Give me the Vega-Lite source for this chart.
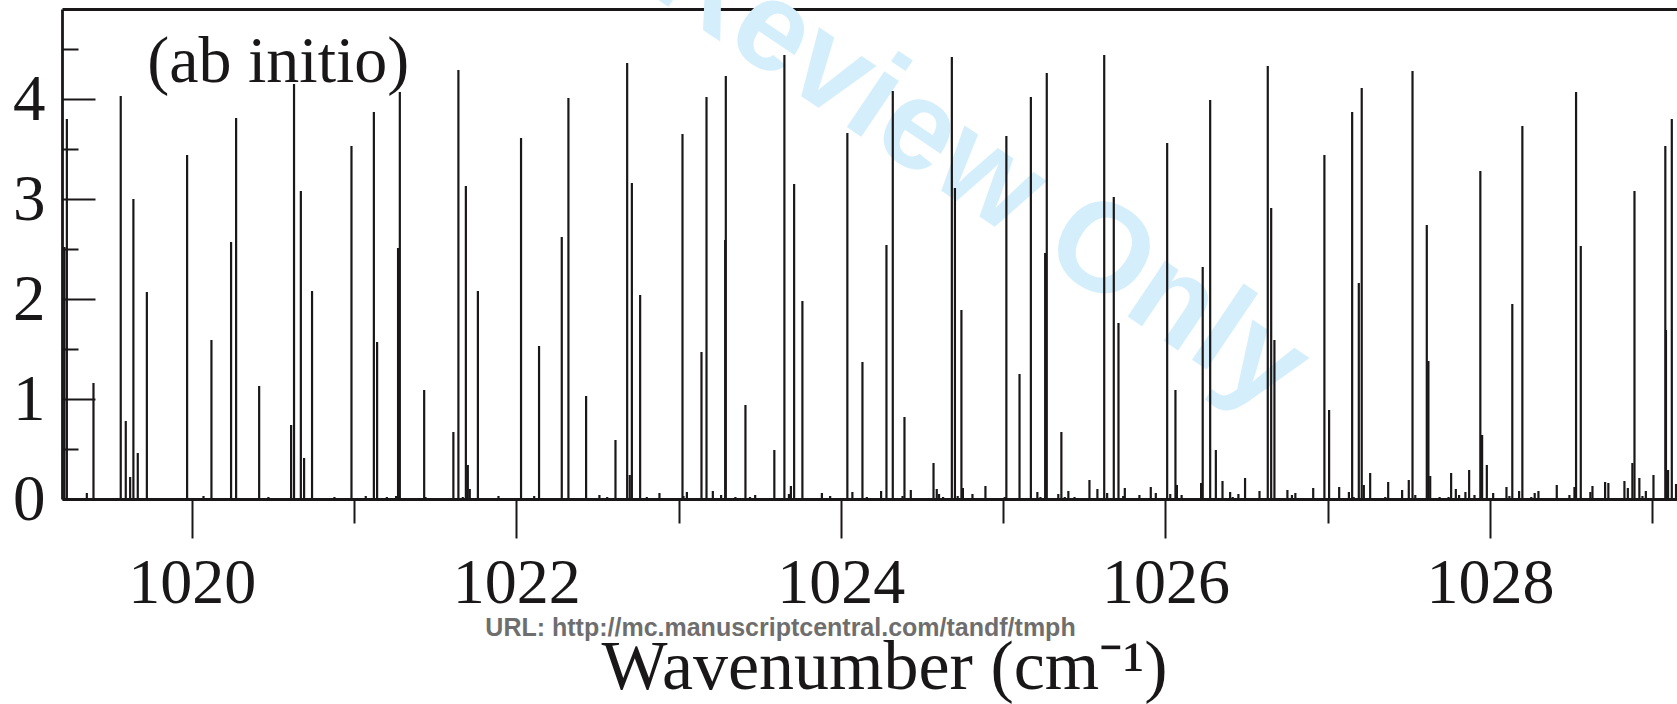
{
  "$schema": "https://vega.github.io/schema/vega-lite/v6.json",
  "autosize": "none",
  "padding": {"left": 62, "top": 9, "right": 0, "bottom": 205},
  "width": 1615,
  "height": 490,
  "background": "white",
  "config": {"view": {"stroke": null}},
  "resolve": {"axis": {"x": "independent", "y": "independent"}},
  "datasets": {
    "lines": [
      {"wn": 1019.215, "h": 2.52}, {"wn": 1019.230, "h": 3.80}, {"wn": 1019.353, "h": 0.06}, {"wn": 1019.394, "h": 1.16},
      {"wn": 1019.562, "h": 4.03}, {"wn": 1019.593, "h": 0.78}, {"wn": 1019.620, "h": 0.22}, {"wn": 1019.640, "h": 3.00},
      {"wn": 1019.667, "h": 0.46}, {"wn": 1019.723, "h": 2.07}, {"wn": 1019.971, "h": 3.44}, {"wn": 1020.072, "h": 0.03},
      {"wn": 1020.121, "h": 1.59}, {"wn": 1020.242, "h": 2.57}, {"wn": 1020.273, "h": 3.81}, {"wn": 1020.415, "h": 1.13},
      {"wn": 1020.472, "h": 0.02}, {"wn": 1020.612, "h": 0.74}, {"wn": 1020.630, "h": 4.15}, {"wn": 1020.672, "h": 3.08},
      {"wn": 1020.692, "h": 0.41}, {"wn": 1020.741, "h": 2.08}, {"wn": 1020.879, "h": 0.02},
      {"wn": 1020.984, "h": 3.53}, {"wn": 1021.072, "h": 0.03}, {"wn": 1021.122, "h": 3.87}, {"wn": 1021.142, "h": 1.57},
      {"wn": 1021.202, "h": 0.02}, {"wn": 1021.259, "h": 0.03}, {"wn": 1021.271, "h": 2.51}, {"wn": 1021.282, "h": 4.07},
      {"wn": 1021.432, "h": 1.09}, {"wn": 1021.440, "h": 0.02}, {"wn": 1021.612, "h": 0.67}, {"wn": 1021.643, "h": 4.29},
      {"wn": 1021.670, "h": 0.02}, {"wn": 1021.689, "h": 3.13}, {"wn": 1021.701, "h": 0.34}, {"wn": 1021.713, "h": 0.10},
      {"wn": 1021.763, "h": 2.08}, {"wn": 1021.890, "h": 0.03}, {"wn": 1022.029, "h": 3.61}, {"wn": 1022.110, "h": 0.03},
      {"wn": 1022.140, "h": 1.53}, {"wn": 1022.280, "h": 2.62}, {"wn": 1022.321, "h": 4.01}, {"wn": 1022.430, "h": 1.03},
      {"wn": 1022.512, "h": 0.04}, {"wn": 1022.560, "h": 0.02}, {"wn": 1022.611, "h": 0.59}, {"wn": 1022.683, "h": 4.36},
      {"wn": 1022.699, "h": 0.24}, {"wn": 1022.712, "h": 3.16}, {"wn": 1022.763, "h": 2.04}, {"wn": 1022.804, "h": 0.02},
      {"wn": 1022.882, "h": 0.06},
      {"wn": 1023.024, "h": 3.65}, {"wn": 1023.030, "h": 0.03}, {"wn": 1023.051, "h": 0.07}, {"wn": 1023.141, "h": 1.47},
      {"wn": 1023.172, "h": 4.02}, {"wn": 1023.211, "h": 0.08}, {"wn": 1023.262, "h": 0.04}, {"wn": 1023.287, "h": 2.59},
      {"wn": 1023.291, "h": 4.23}, {"wn": 1023.350, "h": 0.02}, {"wn": 1023.412, "h": 0.94}, {"wn": 1023.440, "h": 0.02},
      {"wn": 1023.472, "h": 0.04}, {"wn": 1023.530, "h": 0.01}, {"wn": 1023.590, "h": 0.49}, {"wn": 1023.652, "h": 4.44},
      {"wn": 1023.680, "h": 0.05}, {"wn": 1023.692, "h": 0.13}, {"wn": 1023.712, "h": 3.15}, {"wn": 1023.763, "h": 1.98},
      {"wn": 1023.883, "h": 0.06}, {"wn": 1023.934, "h": 0.03}, {"wn": 1024.040, "h": 3.66}, {"wn": 1024.071, "h": 0.07},
      {"wn": 1024.133, "h": 1.37}, {"wn": 1024.160, "h": 0.02}, {"wn": 1024.248, "h": 0.08}, {"wn": 1024.281, "h": 2.54},
      {"wn": 1024.320, "h": 4.08}, {"wn": 1024.380, "h": 0.03}, {"wn": 1024.392, "h": 0.82}, {"wn": 1024.431, "h": 0.09},
      {"wn": 1024.571, "h": 0.36}, {"wn": 1024.591, "h": 0.10}, {"wn": 1024.605, "h": 0.05}, {"wn": 1024.630, "h": 0.02},
      {"wn": 1024.684, "h": 4.42}, {"wn": 1024.703, "h": 3.11}, {"wn": 1024.720, "h": 0.03}, {"wn": 1024.743, "h": 1.89},
      {"wn": 1024.752, "h": 0.11}, {"wn": 1024.811, "h": 0.05}, {"wn": 1024.891, "h": 0.13},
      {"wn": 1025.010, "h": 0.02}, {"wn": 1025.020, "h": 3.63}, {"wn": 1025.101, "h": 1.25}, {"wn": 1025.171, "h": 4.02},
      {"wn": 1025.211, "h": 0.07}, {"wn": 1025.230, "h": 0.02}, {"wn": 1025.259, "h": 2.46}, {"wn": 1025.269, "h": 4.26},
      {"wn": 1025.340, "h": 0.05}, {"wn": 1025.359, "h": 0.67}, {"wn": 1025.380, "h": 0.02}, {"wn": 1025.402, "h": 0.08},
      {"wn": 1025.440, "h": 0.02}, {"wn": 1025.532, "h": 0.19}, {"wn": 1025.581, "h": 0.10}, {"wn": 1025.623, "h": 4.44},
      {"wn": 1025.641, "h": 0.06}, {"wn": 1025.682, "h": 3.02}, {"wn": 1025.711, "h": 1.76}, {"wn": 1025.740, "h": 0.03},
      {"wn": 1025.750, "h": 0.11}, {"wn": 1025.840, "h": 0.04}, {"wn": 1025.910, "h": 0.12}, {"wn": 1025.941, "h": 0.06},
      {"wn": 1025.998, "h": 0.01}, {"wn": 1026.011, "h": 3.56}, {"wn": 1026.030, "h": 0.05}, {"wn": 1026.062, "h": 1.09},
      {"wn": 1026.071, "h": 0.14}, {"wn": 1026.100, "h": 0.04}, {"wn": 1026.220, "h": 0.16}, {"wn": 1026.230, "h": 2.32},
      {"wn": 1026.276, "h": 3.99}, {"wn": 1026.311, "h": 0.49}, {"wn": 1026.352, "h": 0.18}, {"wn": 1026.399, "h": 0.07},
      {"wn": 1026.415, "h": 0.02}, {"wn": 1026.450, "h": 0.05}, {"wn": 1026.491, "h": 0.21}, {"wn": 1026.580, "h": 0.08},
      {"wn": 1026.631, "h": 4.33}, {"wn": 1026.652, "h": 2.91}, {"wn": 1026.672, "h": 1.59}, {"wn": 1026.752, "h": 0.09},
      {"wn": 1026.780, "h": 0.04}, {"wn": 1026.801, "h": 0.06}, {"wn": 1026.911, "h": 0.11}, {"wn": 1026.950, "h": 0.01},
      {"wn": 1026.980, "h": 3.44}, {"wn": 1027.009, "h": 0.89},
      {"wn": 1027.071, "h": 0.12}, {"wn": 1027.131, "h": 0.07}, {"wn": 1027.151, "h": 3.87}, {"wn": 1027.160, "h": 0.02},
      {"wn": 1027.192, "h": 2.16}, {"wn": 1027.210, "h": 4.11}, {"wn": 1027.223, "h": 0.14}, {"wn": 1027.262, "h": 0.26},
      {"wn": 1027.355, "h": 0.02}, {"wn": 1027.373, "h": 0.17}, {"wn": 1027.410, "h": 0.01}, {"wn": 1027.459, "h": 0.09},
      {"wn": 1027.500, "h": 0.19}, {"wn": 1027.523, "h": 4.28}, {"wn": 1027.540, "h": 0.04}, {"wn": 1027.611, "h": 2.74},
      {"wn": 1027.621, "h": 1.38}, {"wn": 1027.632, "h": 0.23}, {"wn": 1027.690, "h": 0.02}, {"wn": 1027.745, "h": 0.02},
      {"wn": 1027.761, "h": 0.26}, {"wn": 1027.790, "h": 0.10}, {"wn": 1027.810, "h": 0.04}, {"wn": 1027.849, "h": 0.07},
      {"wn": 1027.872, "h": 0.29}, {"wn": 1027.905, "h": 0.04}, {"wn": 1027.941, "h": 3.28}, {"wn": 1027.952, "h": 0.64},
      {"wn": 1027.981, "h": 0.34}, {"wn": 1028.020, "h": 0.06}, {"wn": 1028.102, "h": 0.12}, {"wn": 1028.120, "h": 0.03},
      {"wn": 1028.138, "h": 1.95}, {"wn": 1028.180, "h": 0.08}, {"wn": 1028.200, "h": 3.73}, {"wn": 1028.255, "h": 0.02},
      {"wn": 1028.276, "h": 0.06}, {"wn": 1028.299, "h": 0.08}, {"wn": 1028.412, "h": 0.14}, {"wn": 1028.490, "h": 0.04},
      {"wn": 1028.521, "h": 0.12}, {"wn": 1028.531, "h": 4.07}, {"wn": 1028.560, "h": 2.53}, {"wn": 1028.619, "h": 0.07},
      {"wn": 1028.632, "h": 0.13}, {"wn": 1028.710, "h": 0.17}, {"wn": 1028.730, "h": 0.16}, {"wn": 1028.829, "h": 0.18},
      {"wn": 1028.850, "h": 0.11}, {"wn": 1028.878, "h": 0.36}, {"wn": 1028.891, "h": 3.08}, {"wn": 1028.921, "h": 0.21},
      {"wn": 1028.940, "h": 0.03}, {"wn": 1028.961, "h": 0.08}, {"wn": 1029.008, "h": 0.24}, {"wn": 1029.081, "h": 3.53},
      {"wn": 1029.085, "h": 1.69}, {"wn": 1029.098, "h": 0.29}, {"wn": 1029.121, "h": 3.80}, {"wn": 1029.147, "h": 0.15}
    ]
  },
  "layer": [
    {
      "data": {"values": [{}]},
      "mark": {"type": "text", "text": "For Peer Review Only", "angle": 34, "font": "Liberation Sans", "fontWeight": "bold", "fontSize": 127, "fill": "#d4effb", "align": "right", "baseline": "alphabetic"},
      "encoding": {
        "x": {"datum": 1026.66, "type": "quantitative", "scale": {"domain": [1019.2, 1029.153], "nice": false, "zero": false},
          "axis": {"orient": "bottom", "domain": false, "ticks": false, "labels": false, "grid": false,
            "title": "URL: http://mc.manuscriptcentral.com/tandf/tmph", "titleFont": "Liberation Sans", "titleFontWeight": "bold",
            "titleFontSize": 25, "titleColor": "#6e6e6e", "titleBaseline": "alphabetic", "titleAlign": "center", "titleX": 718, "titleY": 136}},
        "y": {"datum": 0.85, "type": "quantitative", "scale": {"domain": [0, 4.9], "nice": false, "zero": false}, "axis": null}
      }
    },
    {
      "data": {"name": "lines"},
      "mark": {"type": "rule", "stroke": "#1a1718", "strokeWidth": 2.2},
      "encoding": {
        "x": {"field": "wn", "type": "quantitative", "scale": {"domain": [1019.2, 1029.153], "nice": false, "zero": false},
          "axis": {"orient": "bottom", "values": [1020, 1021, 1022, 1023, 1024, 1025, 1026, 1027, 1028, 1029], "format": "d",
            "labelExpr": "datum.value % 2 === 0 ? datum.label : ''",
            "tickSize": {"condition": {"test": "datum.value % 2 !== 0", "value": 24}, "value": 39},
            "tickWidth": 2, "tickColor": "#1a1718", "domainColor": "#1a1718", "domainWidth": 2.8,
            "labelFont": "Liberation Serif", "labelFontSize": 64, "labelColor": "#1a1718", "labelPadding": 13,
            "labelFlush": false, "labelOverlap": false, "grid": false,
            "title": "Wavenumber (cm⁻¹)", "titleFont": "Liberation Serif", "titleFontSize": 70, "titleFontWeight": "normal",
            "titleColor": "#1a1718", "titleBaseline": "alphabetic", "titleAlign": "center", "titleX": 822, "titleY": 189}},
        "y": {"field": "h", "type": "quantitative", "scale": {"domain": [0, 4.9], "nice": false, "zero": false},
          "axis": {"values": [0, 0.5, 1, 1.5, 2, 2.5, 3, 3.5, 4, 4.5],
            "labelExpr": "datum.value % 1 === 0 ? format(datum.value, 'd') : ''",
            "tickSize": {"condition": {"test": "datum.value % 1 !== 0", "value": -16}, "value": -33},
            "tickWidth": 2, "tickColor": "#1a1718", "domainColor": "#1a1718", "domainWidth": 2.8,
            "labelFont": "Liberation Serif", "labelFontSize": 65, "labelColor": "#1a1718", "labelPadding": 50,
            "labelOverlap": false, "labelFlush": false, "grid": false, "title": null}},
        "y2": {"datum": 0}
      }
    },
    {
      "data": {"values": [{}]},
      "mark": {"type": "text", "text": "(ab initio)", "font": "Liberation Serif", "fontSize": 66, "fill": "#1a1718", "align": "left", "baseline": "alphabetic"},
      "encoding": {
        "x": {"datum": 1019.725, "type": "quantitative", "scale": {"domain": [1019.2, 1029.153], "nice": false, "zero": false},
          "axis": {"orient": "top", "domain": true, "domainColor": "#1a1718", "domainWidth": 2.8, "ticks": false, "labels": false, "grid": false, "title": null}},
        "y": {"datum": 4.17, "type": "quantitative", "scale": {"domain": [0, 4.9], "nice": false, "zero": false}, "axis": null}
      }
    }
  ]
}
